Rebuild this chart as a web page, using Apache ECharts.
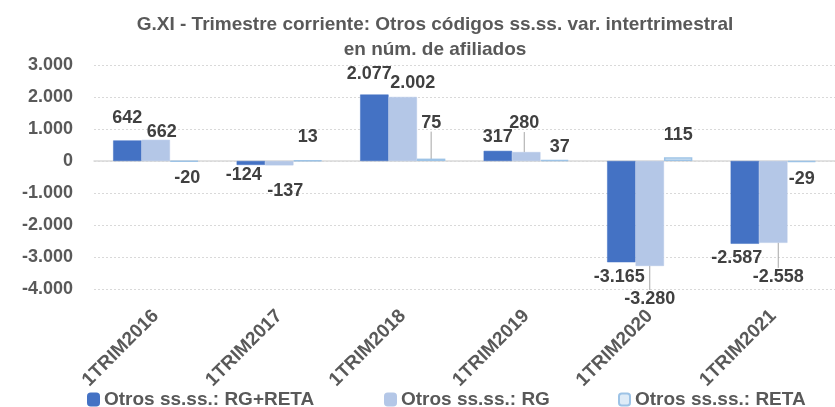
<!DOCTYPE html>
<html>
<head>
    <meta charset="UTF-8">
    <title>G.XI - Trimestre corriente</title>
    <script src="https://cdn.jsdelivr.net/npm/echarts@6/dist/echarts.min.js"></script>
    <style>
        html, body { margin: 0; padding: 0; background: #fff; }
        #chart { width: 835px; height: 407px; }
    </style>
</head>
<body>
    <div id="chart"></div>
    <script>
        // 数据
        var categories = ['1TRIM2016', '1TRIM2017', '1TRIM2018', '1TRIM2019', '1TRIM2020', '1TRIM2021'];
        var seriesNames = ['Otros ss.ss.: RG+RETA', 'Otros ss.ss.: RG', 'Otros ss.ss.: RETA'];
        var rgReta = [642, -124, 2077, 317, -3165, -2587];
        var rg = [662, -137, 2002, 280, -3280, -2558];
        var reta = [-20, 13, 75, 37, 115, -29];

        // 标签微调 (dx, dy)，仿照原图手动摆放的标签
        var nudges = [
            [[0, -8], [-7, -4], [-5, -7], [0, 0], [-2, 1], [-8, 0]],
            [[6, 6], [6, 12], [10, 0], [-2, -15], [0, 19], [5, 20]],
            [[3, 2], [0, -9], [0, -22], [5, 1], [0, -8], [0, 3]]
        ];
        // 带引导线的标签 [series, index]
        var guided = [[2, 2], [1, 3], [1, 4], [1, 5]];

        var fontFamily = '"Liberation Sans", Arial, sans-serif';

        function fmt(v) {
            var s = String(Math.abs(v)).replace(/\B(?=(\d{3})+(?!\d))/g, '.');
            return (v < 0 ? '-' : '') + s;
        }

        function buildData(values, si) {
            return values.map(function (v, i) {
                var hasLine = guided.some(function (g) { return g[0] === si && g[1] === i; });
                var item = { value: v, label: { position: v < 0 ? 'bottom' : 'top' } };
                if (hasLine) item.labelLine = { show: true };
                return item;
            });
        }

        var colors = ['#4472c4', '#b4c7e7', '#deebf7'];
        var borders = ['#4472c4', '#b4c7e7', '#9dc3e6'];
        var allValues = [rgReta, rg, reta];

        var chart = echarts.init(document.getElementById('chart'));

        var series = allValues.map(function (vals, si) {
            return {
                name: seriesNames[si],
                type: 'bar',
                xAxisIndex: 0,
                barGap: '0%',
                barCategoryGap: '31%',
                data: buildData(vals, si),
                itemStyle: {
                    color: colors[si],
                    borderColor: borders[si],
                    borderWidth: si === 2 ? 1.5 : 0.5
                },
                label: {
                    show: true,
                    distance: 5,
                    color: '#404040',
                    fontSize: 18,
                    fontWeight: 'bold',
                    fontFamily: fontFamily,
                    formatter: function (p) { return fmt(p.value); }
                },
                labelLine: {
                    show: false,
                    lineStyle: { color: '#a6a6a6', width: 1 }
                },
                labelLayout: function (p) {
                    var n = nudges[si][p.dataIndex];
                    return { dx: n[0], dy: n[1] };
                }
            };
        });

        var legendPos = [82, 379, 613];
        var legends = seriesNames.map(function (name, i) {
            return {
                data: [name],
                left: legendPos[i],
                top: 385,
                itemWidth: 11,
                itemHeight: 12,
                itemGap: 0,
                textStyle: {
                    color: '#595959',
                    fontSize: 19,
                    fontWeight: 'bold',
                    fontFamily: fontFamily
                }
            };
        });

        var option = {
            animation: false,
            title: {
                text: 'G.XI - Trimestre corriente: Otros códigos ss.ss. var. intertrimestral\nen núm. de afiliados',
                left: 430,
                textAlign: 'center',
                top: 7,
                textStyle: {
                    color: '#595959',
                    fontSize: 19,
                    fontWeight: 'bold',
                    lineHeight: 25,
                    fontFamily: fontFamily
                }
            },
            legend: legends,
            grid: {
                left: 94,
                top: 65,
                width: 754,
                height: 224
            },
            xAxis: [
                {
                    type: 'category',
                    data: categories,
                    position: 'bottom',
                    axisLine: { onZero: true, lineStyle: { color: '#d9d9d9', width: 1.5 } },
                    axisTick: { show: false },
                    axisLabel: { show: false }
                },
                {
                    type: 'category',
                    data: categories,
                    position: 'bottom',
                    axisLine: { show: false, onZero: false },
                    axisTick: { show: false },
                    axisLabel: {
                        rotate: 45,
                        margin: 24,
                        color: '#595959',
                        fontSize: 19,
                        fontWeight: 'bold',
                        fontFamily: fontFamily,
                        interval: 0
                    }
                }
            ],
            yAxis: {
                type: 'value',
                min: -4000,
                max: 3000,
                interval: 1000,
                axisLine: { show: false },
                axisTick: { show: false },
                splitLine: { lineStyle: { color: '#d9d9d9', type: [2, 2], width: 1 } },
                axisLabel: {
                    margin: 21,
                    color: '#595959',
                    fontSize: 18,
                    fontWeight: 'bold',
                    fontFamily: fontFamily,
                    formatter: fmt
                }
            },
            series: series
        };

        chart.setOption(option);
    </script>
</body>
</html>
